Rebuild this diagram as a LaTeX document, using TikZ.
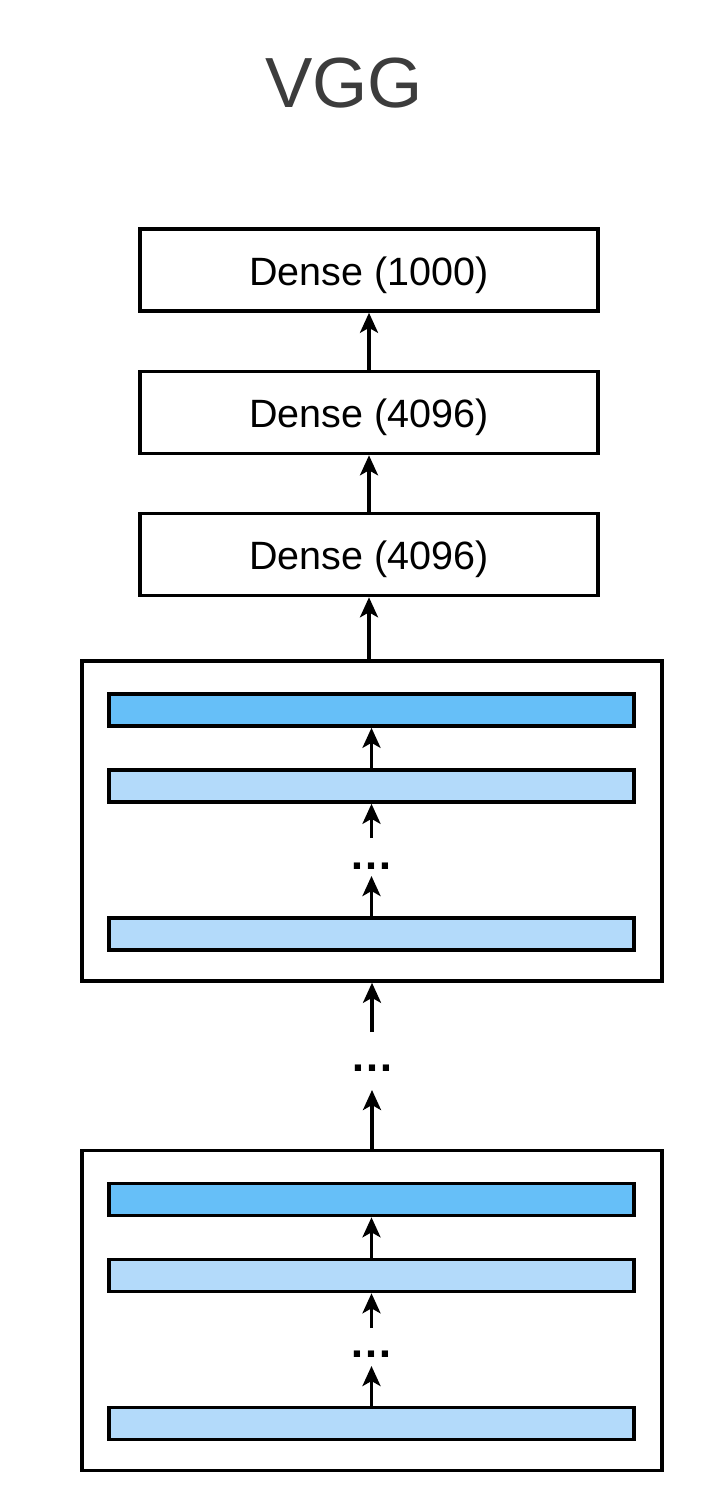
\documentclass[tikz,border=0pt]{standalone}
\usepackage{fontspec}
\setmainfont{Liberation Sans}
\usetikzlibrary{arrows.meta}
\definecolor{bardark}{HTML}{66BFF8}
\definecolor{barlight}{HTML}{B3DAFA}
\definecolor{titlegray}{HTML}{3C3C3C}
\begin{document}
\begin{tikzpicture}[x=1pt,y=-1pt,
  dense/.style={draw, line width=3.6pt, minimum width=458pt, minimum height=82pt, inner sep=0pt,
    font=\fontsize{39.5}{42}\selectfont, text height=30pt, text depth=0pt},
  block/.style={draw, line width=3.6pt, minimum width=580pt, minimum height=320pt, inner sep=0pt},
  bar/.style={draw, line width=3.6pt, minimum width=525pt, minimum height=32pt, inner sep=0pt},
  bardk/.style={bar, fill=bardark},
  barlt/.style={bar, fill=barlight},
  conn/.style={line width=3.4pt, -{Stealth[length=20pt,width=18pt,inset=5pt]}},
  dotsnode/.style={font=\fontsize{44}{44}\selectfont\bfseries, inner sep=0pt, anchor=base}]
\useasboundingbox[fill=white] (0,0) rectangle (718,1510);

% title
\node[anchor=base, inner sep=0pt, text=titlegray, font=\fontsize{71}{80}\selectfont] (title) at (344,107) {VGG};

% dense layers
\node[dense] (d1) at (369,270) {Dense (1000)};
\node[dense] (d2) at (369,412.5) {Dense (4096)};
\node[dense] (d3) at (369,554.5) {Dense (4096)};

% block 1
\node[block] (b1) at (372,821) {};
\node[bardk] (b1l1) at (371.5,710) {};
\node[barlt] (b1l2) at (371.5,786) {};
\node[barlt] (b1l3) at (371.5,934) {};
\coordinate (b1s) at (371.5,838);
\node[dotsnode] (b1dots) at (371.5,869) {…};
\coordinate (b1t) at (371.5,876);

% between blocks
\coordinate (m1) at (372,1032);
\node[dotsnode] (mdots) at (372,1071) {…};
\coordinate (m2) at (372,1090);

% block 2
\node[block] (b2) at (372,1310.5) {};
\node[bardk] (b2l1) at (371.5,1199.5) {};
\node[barlt] (b2l2) at (371.5,1275.5) {};
\node[barlt] (b2l3) at (371.5,1423.5) {};
\coordinate (b2s) at (371.5,1328);
\node[dotsnode] (b2dots) at (371.5,1357) {…};
\coordinate (b2t) at (371.5,1366);

% connectors
\draw[conn] (d2.north) -- (d1.south);
\draw[conn] (d3.north) -- (d2.south);
\draw[conn] (b1.north -| d3.south) -- (d3.south);

\draw[conn] (b1l2.north) -- (b1l1.south);
\draw[conn] (b1s) -- (b1l2.south);
\draw[conn] (b1l3.north) -- (b1t);

\draw[conn] (m1) -- (b1.south);
\draw[conn] (b2.north) -- (m2);

\draw[conn] (b2l2.north) -- (b2l1.south);
\draw[conn] (b2s) -- (b2l2.south);
\draw[conn] (b2l3.north) -- (b2t);
\end{tikzpicture}
\end{document}
